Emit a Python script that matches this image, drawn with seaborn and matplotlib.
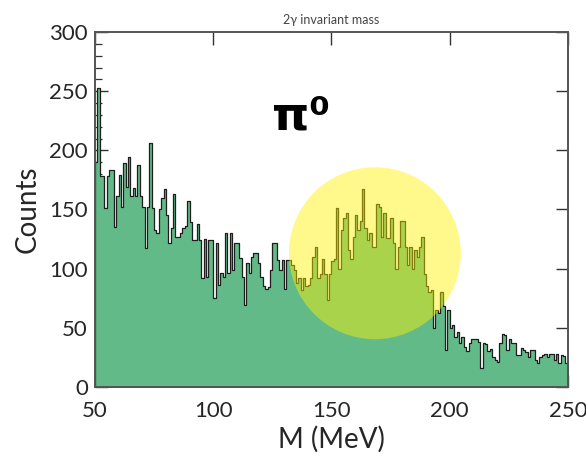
import numpy as np
import matplotlib
matplotlib.use("Agg")
import matplotlib.pyplot as plt
from matplotlib.patches import Ellipse
from matplotlib.ticker import MultipleLocator
import seaborn as sns
import pandas as pd

# 2-photon invariant mass histogram, 1 MeV bins from 50 to 250 MeV
bin_edges = np.arange(50, 251, 1)
counts = [
    190, 253, 178, 178, 151, 178, 183, 183, 135, 161,   # 50-59
    179, 152, 189, 169, 194, 161, 168, 161, 188, 161,   # 60-69
    152, 117, 152, 206, 151, 133, 130, 150, 160, 167,   # 70-79
    145, 122, 134, 163, 127, 127, 130, 134, 136, 157,   # 80-89
    139, 124, 124, 138, 124, 92, 125, 93, 124, 124,     # 90-99
    75, 122, 86, 96, 93, 130, 96, 130, 99, 122,         # 100-109
    122, 109, 93, 69, 105, 96, 110, 113, 113, 105,      # 110-119
    93, 85, 83, 84, 99, 122, 122, 107, 99, 107,         # 120-129
    83, 107, 107, 103, 99, 88, 92, 82, 92, 85,          # 130-139
    86, 92, 110, 118, 92, 95, 108, 95, 73, 95,          # 140-149
    106, 108, 151, 100, 133, 143, 147, 116, 108, 127,   # 150-159
    145, 133, 140, 167, 134, 124, 130, 118, 118, 155,   # 160-169
    152, 127, 147, 126, 126, 143, 122, 100, 118, 140,   # 170-179
    140, 118, 103, 118, 100, 116, 110, 118, 127, 95,    # 180-189
    85, 80, 82, 50, 65, 62, 80, 68, 31, 65,             # 190-199
    50, 52, 42, 46, 37, 42, 34, 30, 37, 40,             # 200-209
    40, 40, 38, 16, 37, 36, 30, 32, 25, 23,             # 210-219
    21, 37, 45, 44, 31, 40, 37, 37, 27, 27,             # 220-229
    33, 31, 29, 25, 31, 31, 23, 20, 25, 27,             # 230-239
    28, 25, 28, 28, 23, 28, 20, 27, 26, 20,             # 240-249
]
assert len(counts) == len(bin_edges) - 1

df = pd.DataFrame({"mass": bin_edges[:-1] + 0.5, "counts": counts})

sns.set_style("ticks")
plt.rcParams["font.family"] = ["Lato", "DejaVu Sans"]

fig = plt.figure(figsize=(5.86, 4.66), dpi=100)
ax = fig.add_axes([0.162, 0.170, 0.807, 0.761])

sns.histplot(data=df, x="mass", weights="counts", binwidth=1,
             binrange=(50, 250), element="step", fill=True,
             color="#62ba89", alpha=1.0, edgecolor="#1e1e1e",
             linewidth=0.9, ax=ax)

# highlight of the pi0 peak
ax.add_patch(Ellipse((168.4, 113), 72.7, 145.5, facecolor="#fff200",
                     alpha=0.45, edgecolor="none", zorder=5))
ax.text(125, 218, "π⁰", fontsize=34, fontweight="bold", color="black",
        family=["DejaVu Sans"], zorder=6)

ax.set_xlim(50, 250)
ax.set_ylim(0, 300)
ax.xaxis.set_major_locator(MultipleLocator(50))
ax.xaxis.set_minor_locator(MultipleLocator(10))
ax.yaxis.set_major_locator(MultipleLocator(50))
ax.yaxis.set_minor_locator(MultipleLocator(10))
ax.tick_params(which="major", direction="in", length=9, width=1,
               top=True, right=True, labelsize=16, color="#333333")
ax.tick_params(axis="x", which="major", pad=10)
ax.tick_params(axis="y", which="major", pad=5)
ax.tick_params(which="minor", direction="in", length=5, width=0.9,
               left=True, bottom=True, top=False, right=False, color="#333333")
for s in ax.spines.values():
    s.set_linewidth(1.4)
    s.set_color("#555555")

ax.set_xlabel("M (MeV)", fontsize=20, labelpad=4)
ax.set_ylabel("Counts", fontsize=20, labelpad=6)
ax.set_title("2γ invariant mass", fontsize=9, color="#444444", pad=6)

fig.savefig("out.png", dpi=100)
